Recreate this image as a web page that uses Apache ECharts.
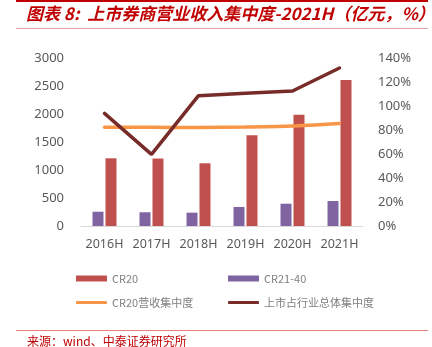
<!DOCTYPE html>
<html><head><meta charset="utf-8">
<style>html,body{margin:0;padding:0;background:#fff;}#c{width:432px;height:347px;}</style>
<script src="https://cdn.jsdelivr.net/npm/echarts@6/dist/echarts.min.js"></script>
</head><body><div id="c"></div>
<script>
const categories = ['2016H','2017H','2018H','2019H','2020H','2021H'];
const cr20 = [1209, 1205, 1120, 1620, 1988, 2607];
const cr2140 = [255, 245, 238, 340, 398, 446];
const cr20Share = [82.2, 82.3, 82.0, 82.5, 83.3, 85.5];
const listedShare = [93.9, 59.7, 108.6, 110.6, 112.5, 131.7];
const leftTicks = [0, 500, 1000, 1500, 2000, 2500, 3000];
const rightTicks = [0, 20, 40, 60, 80, 100, 120, 140];
const titleText = '图表 8:  上市券商营业收入集中度-2021H（亿元，%）';
const sourceText = '来源：wind、中泰证券研究所';

const chart = echarts.init(document.getElementById('c'));
const axisLabel = {color:'#595959', fontSize:13, fontFamily:'Noto Sans'};
const legendText = {color:'#7f7f7f', fontSize:11, fontFamily:'Noto Sans CJK SC'};
function lg(name, left, top, isLine){
  return {data:[name], left:left, top:top, itemWidth:31, itemHeight:isLine?3:6,
    icon: isLine?'roundRect':'rect', itemGap:0, padding:0, textStyle:legendText,
    selectedMode:false};
}
chart.setOption({
  animation:false,
  graphic:[
    {type:'rect', shape:{x:16,y:0,width:412,height:2}, style:{fill:'#C00000'}},
    {type:'text', left:26, top:5, style:{text:titleText, fill:'#C00000',
      font:'italic bold 17px "Noto Sans CJK SC"'}},
    {type:'rect', shape:{x:16,y:28,width:412,height:1}, style:{fill:'#E8A3A3'}},
    {type:'rect', shape:{x:16,y:330,width:412,height:1}, style:{fill:'#E88080'}},
    {type:'text', left:27, top:335, style:{text:sourceText, fill:'#C00000',
      font:'12px "Noto Sans CJK SC"'}}
  ],
  legend:[
    lg('CR20', 76, 273, false),
    lg('CR21-40', 228, 273, false),
    lg('CR20营收集中度', 76, 297, true),
    lg('上市占行业总体集中度', 228, 297, true)
  ],
  grid:{left:81, right:69, top:58, bottom:121},
  xAxis:{type:'category', data:categories,
    axisLine:{lineStyle:{color:'#d9d9d9'}}, axisTick:{show:false},
    axisLabel:Object.assign({}, axisLabel, {margin:12, interval:0, fontSize:12.5})},
  yAxis:[
    {type:'value', min:leftTicks[0], max:leftTicks[leftTicks.length-1], interval:500,
      splitLine:{show:false}, axisLine:{show:false}, axisTick:{show:false},
      axisLabel:Object.assign({margin:17, formatter:function(v){return String(v);}}, axisLabel)},
    {type:'value', min:rightTicks[0], max:rightTicks[rightTicks.length-1], interval:20,
      splitLine:{show:false}, axisLine:{show:false}, axisTick:{show:false},
      axisLabel:Object.assign({margin:15, formatter:'{value}%'}, axisLabel)}
  ],
  series:[
    {name:'CR21-40', type:'bar', data:cr2140, barWidth:11, barGap:'18%',
      itemStyle:{color:'#8064A2'}},
    {name:'CR20', type:'bar', data:cr20, barWidth:11,
      itemStyle:{color:'#C0504D'}},
    {name:'CR20营收集中度', type:'line', yAxisIndex:1, data:cr20Share, symbol:'none',
      smooth:0.2, lineStyle:{color:'#F79646', width:3.5, cap:'round'}, itemStyle:{color:'#F79646'}},
    {name:'上市占行业总体集中度', type:'line', yAxisIndex:1, data:listedShare, symbol:'none',
      lineStyle:{color:'#772C2A', width:3.5, cap:'round'}, itemStyle:{color:'#772C2A'}}
  ]
});
</script></body></html>
